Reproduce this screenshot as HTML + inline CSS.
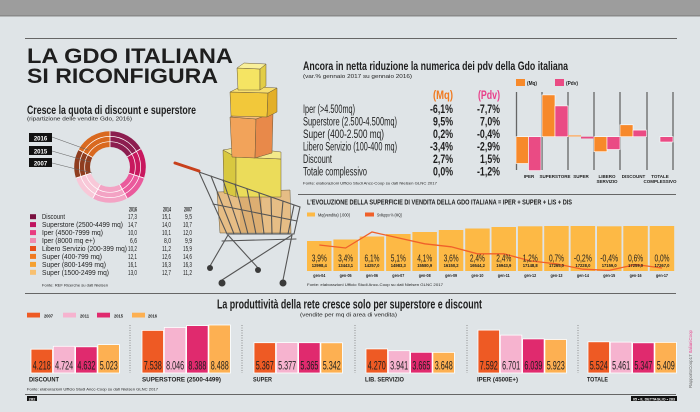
<!DOCTYPE html>
<html><head><meta charset="utf-8"><style>
html,body{margin:0;padding:0;background:#dfe4e7;width:700px;height:412px;overflow:hidden}
svg{display:block}
text{font-family:"Liberation Sans Narrow","Liberation Sans",sans-serif;fill:#1e1e1e}
.b{font-weight:bold}
</style></head><body>
<svg width="700" height="412" viewBox="0 0 700 412" xmlns="http://www.w3.org/2000/svg">
<rect x="0" y="0" width="700" height="412" fill="#dfe4e7"/>
<!-- top band -->
<rect x="0" y="0" width="700" height="16" fill="#9d9d9d"/>
<rect x="0" y="15" width="700" height="1.5" fill="#8a8a8a"/>
<line x1="25" y1="38.5" x2="677" y2="38.5" stroke="#666" stroke-width="1"/>

<!-- Title -->
<text x="27" y="63" class="b" font-size="21" textLength="206" lengthAdjust="spacingAndGlyphs" fill="#1a1a1a">LA GDO ITALIANA</text>
<text x="27" y="83" class="b" font-size="21" textLength="191" lengthAdjust="spacingAndGlyphs" fill="#1a1a1a">SI RICONFIGURA</text>
<text x="27" y="114" class="b" font-size="11.5" textLength="169" lengthAdjust="spacingAndGlyphs">Cresce la quota di discount e superstore</text>
<text x="27" y="120.5" font-size="5.5" textLength="105" lengthAdjust="spacingAndGlyphs" fill="#444">(ripartizione delle vendite Gdo, 2016)</text>

<!-- Donut -->
<g>
<path d="M110,167 L110,131.2 A35.8,35.8 0 0 1 140.81,148.78 Z" fill="#8c1d4f"/>
<path d="M110,167 L140.81,148.78 A35.8,35.8 0 0 1 144.05,178.06 Z" fill="#c8185e"/>
<path d="M110,167 L144.05,178.06 A35.8,35.8 0 0 1 127.25,198.37 Z" fill="#ea5a9c"/>
<path d="M110,167 L127.25,198.37 A35.8,35.8 0 0 1 92.75,198.37 Z" fill="#f3a3c4"/>
<path d="M110,167 L92.75,198.37 A35.8,35.8 0 0 1 75.95,178.06 Z" fill="#f8c8d8"/>
<path d="M110,167 L75.95,178.06 A35.8,35.8 0 0 1 78.63,149.75 Z" fill="#8f3d1f"/>
<path d="M110,167 L78.63,149.75 A35.8,35.8 0 0 1 110,131.2 Z" fill="#d9691f"/>
<g stroke="#fff" stroke-width="0.8">
<line x1="110" y1="167" x2="110" y2="131.2"/>
<line x1="110" y1="167" x2="140.81" y2="148.78"/>
<line x1="110" y1="167" x2="144.05" y2="178.06"/>
<line x1="110" y1="167" x2="127.25" y2="198.37"/>
<line x1="110" y1="167" x2="92.75" y2="198.37"/>
<line x1="110" y1="167" x2="75.95" y2="178.06"/>
<line x1="110" y1="167" x2="78.63" y2="149.75"/>
</g>
<circle cx="110" cy="167" r="30.6" fill="none" stroke="#fff" stroke-width="0.7"/>
<circle cx="110" cy="167" r="25.3" fill="none" stroke="#fff" stroke-width="0.7"/>
<circle cx="110" cy="167" r="20" fill="#dfe4e7"/>
</g>
<g stroke="#666" stroke-width="0.6">
<line x1="52" y1="137" x2="88" y2="150"/>
<line x1="52" y1="151" x2="90" y2="162"/>
<line x1="52" y1="163" x2="92" y2="173"/>
</g>
<rect x="29" y="133" width="23" height="9" fill="#111"/>
<rect x="29" y="146" width="23" height="9" fill="#111"/>
<rect x="29" y="158" width="23" height="9" fill="#111"/>
<text x="40.5" y="140.3" font-size="6" class="b" text-anchor="middle" fill="#fff" style="fill:#fff">2016</text>
<text x="40.5" y="153.3" font-size="6" class="b" text-anchor="middle" style="fill:#fff">2015</text>
<text x="40.5" y="165.3" font-size="6" class="b" text-anchor="middle" style="fill:#fff">2007</text>

<!-- Left table -->
<text x="137" y="211.5" font-size="6.5" class="b" text-anchor="end" textLength="8" lengthAdjust="spacingAndGlyphs">2016</text>
<text x="171" y="211.5" font-size="6.5" class="b" text-anchor="end" textLength="8" lengthAdjust="spacingAndGlyphs">2014</text>
<text x="192" y="211.5" font-size="6.5" class="b" text-anchor="end" textLength="8" lengthAdjust="spacingAndGlyphs">2007</text>
<g font-size="7">
<rect x="30" y="214.2" width="6" height="5" fill="#7a1040"/>
<text x="42" y="219.2" textLength="23" lengthAdjust="spacingAndGlyphs">Discount</text>
<text x="137" y="219.2" text-anchor="end" textLength="9" lengthAdjust="spacingAndGlyphs">17,3</text>
<text x="171" y="219.2" text-anchor="end" textLength="9" lengthAdjust="spacingAndGlyphs">15,1</text>
<text x="192" y="219.2" text-anchor="end" textLength="7" lengthAdjust="spacingAndGlyphs">9,5</text>

<rect x="30" y="222.1" width="6" height="5" fill="#c01560"/>
<text x="42" y="227.1" textLength="81" lengthAdjust="spacingAndGlyphs">Superstore (2500-4499 mq)</text>
<text x="137" y="227.1" text-anchor="end" textLength="9" lengthAdjust="spacingAndGlyphs">14,7</text>
<text x="171" y="227.1" text-anchor="end" textLength="9" lengthAdjust="spacingAndGlyphs">14,0</text>
<text x="192" y="227.1" text-anchor="end" textLength="9" lengthAdjust="spacingAndGlyphs">10,7</text>

<rect x="30" y="230.1" width="6" height="5" fill="#e83c80"/>
<text x="42" y="235.1" textLength="61" lengthAdjust="spacingAndGlyphs">Iper (4500-7999 mq)</text>
<text x="137" y="235.1" text-anchor="end" textLength="9" lengthAdjust="spacingAndGlyphs">10,0</text>
<text x="171" y="235.1" text-anchor="end" textLength="9" lengthAdjust="spacingAndGlyphs">10,1</text>
<text x="192" y="235.1" text-anchor="end" textLength="9" lengthAdjust="spacingAndGlyphs">12,0</text>

<rect x="30" y="238" width="6" height="5" fill="#f08cb0"/>
<text x="42" y="243" textLength="53" lengthAdjust="spacingAndGlyphs">Iper (8000 mq e+)</text>
<text x="137" y="243" text-anchor="end" textLength="7" lengthAdjust="spacingAndGlyphs">6,6</text>
<text x="171" y="243" text-anchor="end" textLength="7" lengthAdjust="spacingAndGlyphs">8,0</text>
<text x="192" y="243" text-anchor="end" textLength="7" lengthAdjust="spacingAndGlyphs">9,9</text>

<rect x="30" y="246" width="6" height="5" fill="#e8501a"/>
<text x="42" y="251" textLength="85" lengthAdjust="spacingAndGlyphs">Libero Servizio (200-399 mq)</text>
<text x="137" y="251" text-anchor="end" textLength="9" lengthAdjust="spacingAndGlyphs">10,2</text>
<text x="171" y="251" text-anchor="end" textLength="9" lengthAdjust="spacingAndGlyphs">11,2</text>
<text x="192" y="251" text-anchor="end" textLength="9" lengthAdjust="spacingAndGlyphs">15,9</text>

<rect x="30" y="253.9" width="6" height="5" fill="#f07a20"/>
<text x="42" y="258.9" textLength="60" lengthAdjust="spacingAndGlyphs">Super (400-799 mq)</text>
<text x="137" y="258.9" text-anchor="end" textLength="9" lengthAdjust="spacingAndGlyphs">12,1</text>
<text x="171" y="258.9" text-anchor="end" textLength="9" lengthAdjust="spacingAndGlyphs">12,6</text>
<text x="192" y="258.9" text-anchor="end" textLength="9" lengthAdjust="spacingAndGlyphs">14,6</text>

<rect x="30" y="261.9" width="6" height="5" fill="#f5a030"/>
<text x="42" y="266.9" textLength="64" lengthAdjust="spacingAndGlyphs">Super (800-1499 mq)</text>
<text x="137" y="266.9" text-anchor="end" textLength="9" lengthAdjust="spacingAndGlyphs">16,1</text>
<text x="171" y="266.9" text-anchor="end" textLength="9" lengthAdjust="spacingAndGlyphs">16,3</text>
<text x="192" y="266.9" text-anchor="end" textLength="9" lengthAdjust="spacingAndGlyphs">16,3</text>

<rect x="30" y="269.8" width="6" height="5" fill="#f8c070"/>
<text x="42" y="274.8" textLength="67" lengthAdjust="spacingAndGlyphs">Super (1500-2499 mq)</text>
<text x="137" y="274.8" text-anchor="end" textLength="9" lengthAdjust="spacingAndGlyphs">13,0</text>
<text x="171" y="274.8" text-anchor="end" textLength="9" lengthAdjust="spacingAndGlyphs">12,7</text>
<text x="192" y="274.8" text-anchor="end" textLength="9" lengthAdjust="spacingAndGlyphs">11,2</text>
</g>
<text x="42" y="286.5" font-size="4" textLength="66" lengthAdjust="spacingAndGlyphs" fill="#333">Fonte: REF Ricerche su dati Nielsen</text>

<!-- Illustration: boxes -->
<g stroke="#6a5a3a" stroke-width="0.5">
<!-- cardboard in cart -->
<polygon points="217,192 290,190 291,233 220,233" fill="#e6bd85"/>
<polygon points="240,194 262,193 262,232 240,232" fill="#dcae72" stroke="none"/>
<!-- big yellow -->
<polygon points="223,150 236,157 236,197 224,193" fill="#d8c840"/>
<polygon points="236,157 281,159 281,197 236,197" fill="#ebdc5a"/>
<polygon points="223,150 240,147 281,152 281,159 236,157" fill="#f3e98a"/>
<!-- orange -->
<polygon points="230,117 256,119 255,158 232,157" fill="#f2a35a"/>
<polygon points="256,119 273,113 272,153 255,158" fill="#e8894a"/>
<polygon points="230,117 246,112 273,113 256,119" fill="#f6bd80"/>
<!-- gold -->
<polygon points="230,92 268,93 267,117 231,116" fill="#f2c83a"/>
<polygon points="268,93 277,88 277,112 267,117" fill="#e3af28"/>
<polygon points="230,92 242,86 277,88 268,93" fill="#f8df6e"/>
<!-- top small -->
<polygon points="237,68 260,69 260,90 238,90" fill="#f5e463"/>
<polygon points="260,69 266,64 266,86 260,90" fill="#e2cd46"/>
<polygon points="237,68 244,63 266,64 260,69" fill="#f9f09a"/>
</g>
<!-- cart -->
<g stroke="#555" stroke-width="1.1" fill="none" stroke-linecap="round">
<polygon points="199,172 300,207 294,234 227,234"/>
<line x1="211" y1="176" x2="234" y2="234"/>
<line x1="223" y1="180" x2="241" y2="234"/>
<line x1="235" y1="184" x2="248" y2="234"/>
<line x1="247" y1="189" x2="256" y2="234"/>
<line x1="259" y1="193" x2="264" y2="234"/>
<line x1="271" y1="197" x2="272" y2="234"/>
<line x1="283" y1="201" x2="280" y2="234"/>
<line x1="294" y1="205" x2="288" y2="234"/>
<line x1="213" y1="204" x2="297" y2="221"/>
<line x1="222" y1="241" x2="296" y2="239"/>
<line x1="228" y1="235" x2="210" y2="266"/>
<line x1="228" y1="235" x2="258" y2="268"/>
<line x1="292" y1="235" x2="283" y2="280"/>
<line x1="292" y1="235" x2="222" y2="280"/>
</g>
<line x1="175" y1="163" x2="199" y2="171" stroke="#c8401c" stroke-width="3" stroke-linecap="round"/>
<g fill="#3a3a3a">
<circle cx="210" cy="268" r="3"/>
<circle cx="222" cy="283" r="3.5"/>
<circle cx="258" cy="270" r="3"/>
<circle cx="283" cy="283" r="3.5"/>
</g>

<!-- Right top table -->
<text x="303" y="70" class="b" font-size="11.5" textLength="265" lengthAdjust="spacingAndGlyphs">Ancora in netta riduzione la numerica dei pdv della Gdo italiana</text>
<text x="303" y="78" font-size="5.5" textLength="109" lengthAdjust="spacingAndGlyphs" fill="#444">(var.% gennaio 2017 su gennaio 2016)</text>
<text x="453" y="99" font-size="11.5" class="b" text-anchor="end" textLength="20" lengthAdjust="spacingAndGlyphs" style="fill:#f07a20">(Mq)</text>
<text x="500" y="99" font-size="11.5" class="b" text-anchor="end" textLength="22" lengthAdjust="spacingAndGlyphs" style="fill:#e8408a">(Pdv)</text>
<g font-size="11.5">
<text x="303" y="113" textLength="52" lengthAdjust="spacingAndGlyphs">Iper (&gt;4.500mq)</text>
<text x="303" y="125.5" textLength="94" lengthAdjust="spacingAndGlyphs">Superstore (2.500-4.500mq)</text>
<text x="303" y="138" textLength="81" lengthAdjust="spacingAndGlyphs">Super (400-2.500 mq)</text>
<text x="303" y="150.5" textLength="94" lengthAdjust="spacingAndGlyphs">Libero Servizio (100-400 mq)</text>
<text x="303" y="163" textLength="29" lengthAdjust="spacingAndGlyphs">Discount</text>
<text x="303" y="175.5" textLength="64" lengthAdjust="spacingAndGlyphs">Totale complessivo</text>
</g>
<g font-size="11.5" class="b" text-anchor="end">
<text x="453" y="113" textLength="23" lengthAdjust="spacingAndGlyphs">-6,1%</text>
<text x="453" y="125.5" textLength="20" lengthAdjust="spacingAndGlyphs">9,5%</text>
<text x="453" y="138" textLength="20" lengthAdjust="spacingAndGlyphs">0,2%</text>
<text x="453" y="150.5" textLength="23" lengthAdjust="spacingAndGlyphs">-3,4%</text>
<text x="453" y="163" textLength="20" lengthAdjust="spacingAndGlyphs">2,7%</text>
<text x="453" y="175.5" textLength="20" lengthAdjust="spacingAndGlyphs">0,0%</text>
<text x="500" y="113" textLength="23" lengthAdjust="spacingAndGlyphs">-7,7%</text>
<text x="500" y="125.5" textLength="20" lengthAdjust="spacingAndGlyphs">7,0%</text>
<text x="500" y="138" textLength="23" lengthAdjust="spacingAndGlyphs">-0,4%</text>
<text x="500" y="150.5" textLength="23" lengthAdjust="spacingAndGlyphs">-2,9%</text>
<text x="500" y="163" textLength="20" lengthAdjust="spacingAndGlyphs">1,5%</text>
<text x="500" y="175.5" textLength="23" lengthAdjust="spacingAndGlyphs">-1,2%</text>
</g>
<text x="303" y="184.5" font-size="4" textLength="134" lengthAdjust="spacingAndGlyphs" fill="#333">Fonte: elaborazioni Ufficio Studi Ancc-Coop su dati Nielsen GLNC 2017</text>

<!-- Right bar chart -->
<rect x="516" y="79" width="9" height="7" fill="#f7892a"/>
<text x="527" y="85" font-size="5" class="b" textLength="10" lengthAdjust="spacingAndGlyphs">(Mq)</text>
<rect x="555" y="79" width="9" height="7" fill="#ea4b84"/>
<text x="566" y="85" font-size="5" class="b" textLength="12" lengthAdjust="spacingAndGlyphs">(Pdv)</text>
<g stroke="#666" stroke-width="1.3">
<line x1="516.5" y1="92" x2="516.5" y2="170"/>
<line x1="542" y1="92" x2="542" y2="170"/>
<line x1="568" y1="92" x2="568" y2="170"/>
<line x1="594" y1="92" x2="594" y2="170"/>
<line x1="620" y1="92" x2="620" y2="170"/>
<line x1="647" y1="92" x2="647" y2="170"/>
<line x1="673" y1="92" x2="673" y2="170"/>
</g>
<g stroke="#fff" stroke-width="0.6">
<rect x="516" y="136.7" width="12.5" height="26.8" fill="#f7892a"/>
<rect x="528.5" y="136.7" width="12.5" height="33.9" fill="#ea4b84"/>
<rect x="542" y="94.9" width="13" height="41.8" fill="#f7892a"/>
<rect x="555" y="105.9" width="13" height="30.8" fill="#ea4b84"/>
<rect x="568" y="135" width="13" height="1.7" fill="#f8b880" stroke="none"/>
<rect x="581" y="136.7" width="13" height="1.8" fill="#ea4b84" stroke="none"/>
<rect x="594" y="136.7" width="13" height="15" fill="#f7892a"/>
<rect x="607" y="136.7" width="13" height="12.8" fill="#ea4b84"/>
<rect x="620" y="124.8" width="13" height="11.9" fill="#f7892a"/>
<rect x="633" y="130.1" width="13.5" height="6.6" fill="#ea4b84"/>
<rect x="660" y="136.7" width="13" height="5.3" fill="#ea4b84"/>
</g>
<g font-size="4.5" class="b" text-anchor="middle">
<text x="529" y="178">IPER</text>
<text x="555" y="178">SUPERSTORE</text>
<text x="581" y="178">SUPER</text>
<text x="607" y="178">LIBERO</text>
<text x="607" y="183">SERVIZIO</text>
<text x="633.5" y="178">DISCOUNT</text>
<text x="660" y="178">TOTALE</text>
<text x="660" y="183">COMPLESSIVO</text>
</g>
<line x1="298" y1="194.5" x2="676" y2="194.5" stroke="#666" stroke-width="1"/>

<!-- Middle chart -->
<text x="307" y="204.5" font-size="7" class="b" textLength="265" lengthAdjust="spacingAndGlyphs">L'EVOLUZIONE DELLA SUPERFICIE DI VENDITA DELLA GDO ITALIANA = IPER + SUPER + LIS + DIS</text>
<rect x="307" y="212.5" width="8" height="4" fill="#fdb945"/>
<text x="318" y="216.5" font-size="4.5" textLength="32" lengthAdjust="spacingAndGlyphs" fill="#333">Mq(vendita) (.000)</text>
<rect x="365" y="212.5" width="9" height="4" fill="#f0602a"/>
<text x="377" y="216.5" font-size="4.5" textLength="25" lengthAdjust="spacingAndGlyphs" fill="#333">Sviluppo % (MQ)</text>
<g fill="#fdb945">
<rect x="307" y="241" width="24.5" height="30"/>
<rect x="333.4" y="239.5" width="24.5" height="31.5"/>
<rect x="359.7" y="236.5" width="24.5" height="34.5"/>
<rect x="386.1" y="234" width="24.5" height="37"/>
<rect x="412.4" y="232" width="24.5" height="39"/>
<rect x="438.8" y="230" width="24.5" height="41"/>
<rect x="465.2" y="228.5" width="24.5" height="42.5"/>
<rect x="491.5" y="227" width="24.5" height="44"/>
<rect x="517.9" y="226.3" width="24.5" height="44.7"/>
<rect x="544.2" y="226" width="24.5" height="45"/>
<rect x="570.6" y="226" width="24.5" height="45"/>
<rect x="597" y="226.3" width="24.5" height="44.7"/>
<rect x="623.3" y="226" width="24.5" height="45"/>
<rect x="649.7" y="226" width="24.5" height="45"/>
</g>
<polyline fill="none" stroke="#f0602a" stroke-width="1.3" points="319.3,245 345.6,248 372,232 398.3,237.9 424.7,243.8 451.1,246.8 477.4,253.8 503.8,253.8 530.2,260.9 556.5,263.9 582.9,269.2 609.2,270.4 635.6,264.5 662,268"/>
<g font-size="10.5" text-anchor="middle">
<text x="319.3" y="261.7" textLength="15" lengthAdjust="spacingAndGlyphs">3,9%</text>
<text x="345.6" y="261.7" textLength="15" lengthAdjust="spacingAndGlyphs">3,4%</text>
<text x="372" y="261.7" textLength="15" lengthAdjust="spacingAndGlyphs">6,1%</text>
<text x="398.3" y="261.7" textLength="15" lengthAdjust="spacingAndGlyphs">5,1%</text>
<text x="424.7" y="261.7" textLength="15" lengthAdjust="spacingAndGlyphs">4,1%</text>
<text x="451.1" y="261.7" textLength="15" lengthAdjust="spacingAndGlyphs">3,6%</text>
<text x="477.4" y="261.7" textLength="15" lengthAdjust="spacingAndGlyphs">2,4%</text>
<text x="503.8" y="261.7" textLength="15" lengthAdjust="spacingAndGlyphs">2,4%</text>
<text x="530.2" y="261.7" textLength="15" lengthAdjust="spacingAndGlyphs">1,2%</text>
<text x="556.5" y="261.7" textLength="15" lengthAdjust="spacingAndGlyphs">0,7%</text>
<text x="582.9" y="261.7" textLength="18" lengthAdjust="spacingAndGlyphs">-0,2%</text>
<text x="609.2" y="261.7" textLength="18" lengthAdjust="spacingAndGlyphs">-0,4%</text>
<text x="635.6" y="261.7" textLength="15" lengthAdjust="spacingAndGlyphs">0,6%</text>
<text x="662" y="261.7" textLength="15" lengthAdjust="spacingAndGlyphs">0,0%</text>
</g>
<g font-size="4.5" class="b" text-anchor="middle">
<text x="319.3" y="267" textLength="15" lengthAdjust="spacingAndGlyphs">12998,4</text>
<text x="345.6" y="267" textLength="15" lengthAdjust="spacingAndGlyphs">13443,1</text>
<text x="372" y="267" textLength="15" lengthAdjust="spacingAndGlyphs">14257,0</text>
<text x="398.3" y="267" textLength="15" lengthAdjust="spacingAndGlyphs">14983,3</text>
<text x="424.7" y="267" textLength="15" lengthAdjust="spacingAndGlyphs">15580,9</text>
<text x="451.1" y="267" textLength="15" lengthAdjust="spacingAndGlyphs">16150,2</text>
<text x="477.4" y="267" textLength="15" lengthAdjust="spacingAndGlyphs">16544,2</text>
<text x="503.8" y="267" textLength="15" lengthAdjust="spacingAndGlyphs">16943,9</text>
<text x="530.2" y="267" textLength="15" lengthAdjust="spacingAndGlyphs">17148,8</text>
<text x="556.5" y="267" textLength="15" lengthAdjust="spacingAndGlyphs">17265,0</text>
<text x="582.9" y="267" textLength="15" lengthAdjust="spacingAndGlyphs">17228,0</text>
<text x="609.2" y="267" textLength="15" lengthAdjust="spacingAndGlyphs">17159,0</text>
<text x="635.6" y="267" textLength="15" lengthAdjust="spacingAndGlyphs">17259,0</text>
<text x="662" y="267" textLength="15" lengthAdjust="spacingAndGlyphs">17267,0</text>
</g>
<g font-size="4.5" class="b" text-anchor="middle">
<text x="319.3" y="277" textLength="12" lengthAdjust="spacingAndGlyphs">gen-04</text>
<text x="345.6" y="277" textLength="12" lengthAdjust="spacingAndGlyphs">gen-05</text>
<text x="372" y="277" textLength="12" lengthAdjust="spacingAndGlyphs">gen-06</text>
<text x="398.3" y="277" textLength="12" lengthAdjust="spacingAndGlyphs">gen-07</text>
<text x="424.7" y="277" textLength="12" lengthAdjust="spacingAndGlyphs">gen-08</text>
<text x="451.1" y="277" textLength="12" lengthAdjust="spacingAndGlyphs">gen-09</text>
<text x="477.4" y="277" textLength="12" lengthAdjust="spacingAndGlyphs">gen-10</text>
<text x="503.8" y="277" textLength="12" lengthAdjust="spacingAndGlyphs">gen-11</text>
<text x="530.2" y="277" textLength="12" lengthAdjust="spacingAndGlyphs">gen-12</text>
<text x="556.5" y="277" textLength="12" lengthAdjust="spacingAndGlyphs">gen-13</text>
<text x="582.9" y="277" textLength="12" lengthAdjust="spacingAndGlyphs">gen-14</text>
<text x="609.2" y="277" textLength="12" lengthAdjust="spacingAndGlyphs">gen-15</text>
<text x="635.6" y="277" textLength="12" lengthAdjust="spacingAndGlyphs">gen-16</text>
<text x="662" y="277" textLength="12" lengthAdjust="spacingAndGlyphs">gen-17</text>
</g>
<text x="307" y="286" font-size="4" textLength="136" lengthAdjust="spacingAndGlyphs" fill="#333">Fonte: elaborazioni Ufficio Studi Ancc-Coop su dati Nielsen GLNC 2017</text>

<line x1="25" y1="293.5" x2="676" y2="293.5" stroke="#666" stroke-width="1"/>

<!-- Bottom chart -->
<text x="217" y="308.5" class="b" font-size="12.5" textLength="265" lengthAdjust="spacingAndGlyphs">La produttività della rete cresce solo per superstore e discount</text>
<text x="300" y="316.5" font-size="5.5" textLength="97" lengthAdjust="spacingAndGlyphs" fill="#444">(vendite per mq di area di vendita)</text>
<rect x="27" y="312.7" width="13" height="4.8" fill="#ee5a24"/>
<text x="44" y="317.3" font-size="4.5" class="b" textLength="9" lengthAdjust="spacingAndGlyphs">2007</text>
<rect x="63" y="312.7" width="13" height="4.8" fill="#f6b3cf"/>
<text x="80" y="317.3" font-size="4.5" class="b" textLength="9" lengthAdjust="spacingAndGlyphs">2011</text>
<rect x="97" y="312.7" width="13" height="4.8" fill="#e02a6e"/>
<text x="114" y="317.3" font-size="4.5" class="b" textLength="9" lengthAdjust="spacingAndGlyphs">2015</text>
<rect x="132" y="312.7" width="13" height="4.8" fill="#fdb052"/>
<text x="148" y="317.3" font-size="4.5" class="b" textLength="9" lengthAdjust="spacingAndGlyphs">2016</text>

<g stroke="#777" stroke-width="0.8" stroke-dasharray="1,1.5">
<line x1="130" y1="325" x2="130" y2="373"/>
<line x1="242" y1="325" x2="242" y2="373"/>
<line x1="355" y1="325" x2="355" y2="373"/>
<line x1="467" y1="325" x2="467" y2="373"/>
<line x1="578" y1="325" x2="578" y2="373"/>
</g>

<g stroke="#fff" stroke-width="0.8">
<!-- DISCOUNT -->
<rect x="31" y="349.2" width="21.5" height="23.8" fill="#ee5a24"/>
<rect x="53.3" y="346.3" width="21.5" height="26.7" fill="#f6b3cf"/>
<rect x="75.6" y="346.8" width="21.5" height="26.2" fill="#e02a6e"/>
<rect x="97.9" y="344.6" width="21.5" height="28.4" fill="#fdb052"/>
<!-- SUPERSTORE -->
<rect x="142" y="330.4" width="21.5" height="42.6" fill="#ee5a24"/>
<rect x="164.3" y="327.5" width="21.5" height="45.5" fill="#f6b3cf"/>
<rect x="186.6" y="325.6" width="21.5" height="47.4" fill="#e02a6e"/>
<rect x="208.9" y="325" width="21.5" height="48" fill="#fdb052"/>
<!-- SUPER -->
<rect x="254" y="342.7" width="21.5" height="30.3" fill="#ee5a24"/>
<rect x="276.3" y="342.6" width="21.5" height="30.4" fill="#f6b3cf"/>
<rect x="298.6" y="342.7" width="21.5" height="30.3" fill="#e02a6e"/>
<rect x="320.9" y="342.8" width="21.5" height="30.2" fill="#fdb052"/>
<!-- LIB -->
<rect x="366" y="348.9" width="21.5" height="24.1" fill="#ee5a24"/>
<rect x="388.3" y="350.7" width="21.5" height="22.3" fill="#f6b3cf"/>
<rect x="410.6" y="352.3" width="21.5" height="20.7" fill="#e02a6e"/>
<rect x="432.9" y="352.4" width="21.5" height="20.6" fill="#fdb052"/>
<!-- IPER -->
<rect x="478" y="330.1" width="21.5" height="42.9" fill="#ee5a24"/>
<rect x="500.3" y="335.1" width="21.5" height="37.9" fill="#f6b3cf"/>
<rect x="522.6" y="338.9" width="21.5" height="34.1" fill="#e02a6e"/>
<rect x="544.9" y="339.5" width="21.5" height="33.5" fill="#fdb052"/>
<!-- TOTALE -->
<rect x="588" y="341.8" width="21.5" height="31.2" fill="#ee5a24"/>
<rect x="610.3" y="342.1" width="21.5" height="30.9" fill="#f6b3cf"/>
<rect x="632.6" y="342.8" width="21.5" height="30.2" fill="#e02a6e"/>
<rect x="654.9" y="342.4" width="21.5" height="30.6" fill="#fdb052"/>
</g>
<g font-size="11.5" text-anchor="middle">
<text x="41.8" y="369.3" textLength="18" lengthAdjust="spacingAndGlyphs">4.218</text>
<text x="64.1" y="369.3" textLength="18" lengthAdjust="spacingAndGlyphs">4.724</text>
<text x="86.4" y="369.3" textLength="18" lengthAdjust="spacingAndGlyphs">4.632</text>
<text x="108.7" y="369.3" textLength="18" lengthAdjust="spacingAndGlyphs">5.023</text>
<text x="152.8" y="369.3" textLength="18" lengthAdjust="spacingAndGlyphs">7.538</text>
<text x="175.1" y="369.3" textLength="18" lengthAdjust="spacingAndGlyphs">8.046</text>
<text x="197.4" y="369.3" textLength="18" lengthAdjust="spacingAndGlyphs">8.388</text>
<text x="219.7" y="369.3" textLength="18" lengthAdjust="spacingAndGlyphs">8.488</text>
<text x="264.8" y="369.3" textLength="18" lengthAdjust="spacingAndGlyphs">5.367</text>
<text x="287.1" y="369.3" textLength="18" lengthAdjust="spacingAndGlyphs">5.377</text>
<text x="309.4" y="369.3" textLength="18" lengthAdjust="spacingAndGlyphs">5.365</text>
<text x="331.7" y="369.3" textLength="18" lengthAdjust="spacingAndGlyphs">5.342</text>
<text x="376.8" y="369.3" textLength="18" lengthAdjust="spacingAndGlyphs">4.270</text>
<text x="399.1" y="369.3" textLength="18" lengthAdjust="spacingAndGlyphs">3.941</text>
<text x="421.4" y="369.3" textLength="18" lengthAdjust="spacingAndGlyphs">3.665</text>
<text x="443.7" y="369.3" textLength="18" lengthAdjust="spacingAndGlyphs">3.648</text>
<text x="488.8" y="369.3" textLength="18" lengthAdjust="spacingAndGlyphs">7.592</text>
<text x="511.1" y="369.3" textLength="18" lengthAdjust="spacingAndGlyphs">6.701</text>
<text x="533.4" y="369.3" textLength="18" lengthAdjust="spacingAndGlyphs">6.039</text>
<text x="555.7" y="369.3" textLength="18" lengthAdjust="spacingAndGlyphs">5.923</text>
<text x="598.8" y="369.3" textLength="18" lengthAdjust="spacingAndGlyphs">5.524</text>
<text x="621.1" y="369.3" textLength="18" lengthAdjust="spacingAndGlyphs">5.461</text>
<text x="643.4" y="369.3" textLength="18" lengthAdjust="spacingAndGlyphs">5.347</text>
<text x="665.7" y="369.3" textLength="18" lengthAdjust="spacingAndGlyphs">5.409</text>
</g>
<g font-size="6" class="b">
<text x="29" y="381.5" textLength="30" lengthAdjust="spacingAndGlyphs">DISCOUNT</text>
<text x="142" y="381.5" textLength="79" lengthAdjust="spacingAndGlyphs">SUPERSTORE (2500-4499)</text>
<text x="253" y="381.5" textLength="19" lengthAdjust="spacingAndGlyphs">SUPER</text>
<text x="365" y="381.5" textLength="39" lengthAdjust="spacingAndGlyphs">LIB. SERVIZIO</text>
<text x="477" y="381.5" textLength="41" lengthAdjust="spacingAndGlyphs">IPER (4500E+)</text>
<text x="587" y="381.5" textLength="21" lengthAdjust="spacingAndGlyphs">TOTALE</text>
</g>
<text x="27" y="390.5" font-size="4" textLength="131" lengthAdjust="spacingAndGlyphs" fill="#333">Fonte: elaborazioni Ufficio Studi Ancc-Coop su dati Nielsen GLNC 2017</text>
<line x1="25" y1="394.5" x2="676" y2="394.5" stroke="#666" stroke-width="1"/>
<rect x="27" y="396" width="10" height="5" fill="#111"/>
<text x="32" y="400.3" font-size="4" class="b" text-anchor="middle" style="fill:#fff">282</text>
<rect x="631" y="396" width="46" height="5" fill="#111"/>
<text x="654" y="400.3" font-size="4" class="b" text-anchor="middle" textLength="42" lengthAdjust="spacingAndGlyphs" style="fill:#fff">05 • IL DETTAGLIO • 283</text>
<!-- vertical side text -->
<text transform="translate(692,388) rotate(-90)" font-size="4.5" textLength="58" lengthAdjust="spacingAndGlyphs"><tspan style="fill:#666">RapportoCoop17 </tspan><tspan style="fill:#e8408a">ItalianiCoop</tspan></text>
</svg>
</body></html>
